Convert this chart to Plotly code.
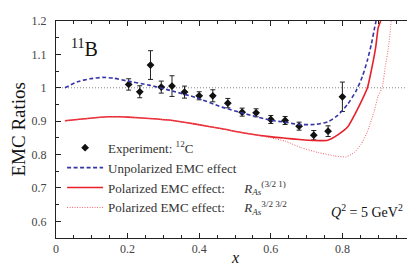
import plotly.graph_objects as go

# Experimental data (12C)
exp_x = [0.203, 0.234, 0.264, 0.294, 0.324, 0.359, 0.40, 0.438, 0.48, 0.52, 0.559, 0.60, 0.64, 0.679, 0.72, 0.76, 0.80]
exp_y = [1.010, 0.988, 1.068, 1.002, 1.005, 0.987, 0.976, 0.976, 0.954, 0.927, 0.925, 0.905, 0.902, 0.885, 0.858, 0.870, 0.973]
exp_err = [0.017, 0.018, 0.043, 0.018, 0.031, 0.018, 0.012, 0.018, 0.014, 0.012, 0.012, 0.012, 0.012, 0.012, 0.014, 0.016, 0.044]

# Unpolarized EMC effect
unpol_x = [0.025, 0.06, 0.095, 0.13, 0.16, 0.2, 0.26, 0.326, 0.39, 0.464, 0.529, 0.603, 0.64, 0.676, 0.722, 0.759, 0.787, 0.815, 0.838, 0.856, 0.87, 0.881, 0.89, 0.894]
unpol_y = [1.0, 1.018, 1.027, 1.031, 1.029, 1.02, 1.008, 0.99, 0.971, 0.942, 0.922, 0.902, 0.897, 0.890, 0.890, 0.898, 0.917, 0.951, 0.990, 1.034, 1.083, 1.131, 1.18, 1.2]

# Polarized EMC effect R_As^(3/2 1)
pol1_x = [0.025, 0.08, 0.142, 0.18, 0.2, 0.26, 0.326, 0.39, 0.464, 0.53, 0.603, 0.64, 0.68, 0.722, 0.759, 0.787, 0.815, 0.838, 0.856, 0.87, 0.881, 0.893, 0.9, 0.907]
pol1_y = [0.901, 0.907, 0.913, 0.913, 0.912, 0.908, 0.902, 0.891, 0.877, 0.864, 0.853, 0.849, 0.845, 0.842, 0.843, 0.859, 0.883, 0.927, 0.966, 1.0, 1.053, 1.121, 1.18, 1.2]

# Polarized EMC effect R_As^(3/2 3/2)
pol2_x = [0.025, 0.08, 0.142, 0.18, 0.2, 0.26, 0.326, 0.39, 0.464, 0.53, 0.6, 0.64, 0.686, 0.732, 0.778, 0.81, 0.833, 0.852, 0.87, 0.888, 0.9, 0.911, 0.92, 0.93, 0.936]
pol2_y = [0.901, 0.907, 0.913, 0.913, 0.912, 0.908, 0.902, 0.891, 0.877, 0.864, 0.850, 0.840, 0.820, 0.806, 0.796, 0.793, 0.806, 0.830, 0.869, 0.927, 0.976, 1.0, 1.064, 1.131, 1.2]

ref_x = [0, 1]
ref_y = [1, 1]

x_ticks = [0, 0.2, 0.4, 0.6, 0.8, 1]
x_tick_labels = ["0", "0.2", "0.4", "0.6", "0.8", "1"]
y_ticks = [0.6, 0.7, 0.8, 0.9, 1.0, 1.1, 1.2]
y_tick_labels = ["0.6", "0.7", "0.8", "0.9", "1", "1.1", "1.2"]

SERIF = "Times New Roman"
GAP = "&nbsp;" * 6

fig = go.Figure()
fig.add_trace(go.Scatter(x=ref_x, y=ref_y, mode="lines", showlegend=False,
                         line=dict(color="#888888", width=1, dash="1px,2px")))
fig.add_trace(go.Scatter(
    x=exp_x, y=exp_y, mode="markers", name="Experiment: <sup>12</sup>C",
    marker=dict(symbol="diamond", size=6, color="#111111"),
    error_y=dict(type="data", array=exp_err, color="#222222", thickness=1, width=2.5)))
fig.add_trace(go.Scatter(x=unpol_x, y=unpol_y, mode="lines", name="Unpolarized EMC effect",
                         line=dict(color="#3535a5", width=1.6, dash="4px,2.5px", shape="spline", smoothing=0.5)))
fig.add_trace(go.Scatter(x=pol1_x, y=pol1_y, mode="lines",
                         name="Polarized EMC effect:" + GAP + "<i>R</i><sub><i>As</i></sub><sup>(3/2 1)</sup>",
                         line=dict(color="#e8202a", width=1.6, shape="spline", smoothing=0.5)))
fig.add_trace(go.Scatter(x=pol2_x, y=pol2_y, mode="lines",
                         name="Polarized EMC effect:" + GAP + "<i>R</i><sub><i>As</i></sub><sup>3/2 3/2</sup>",
                         line=dict(color="#f06068", width=1, dash="1px,1.5px", shape="spline", smoothing=0.5)))

fig.add_annotation(x=0.035, y=1.12, xref="x", yref="y", text="<sup>11</sup>B", showarrow=False,
                   font=dict(family=SERIF, size=20, color="#111111"), xanchor="left")
fig.add_annotation(x=0.975, y=0.63, xref="x", yref="y",
                   text="<i>Q</i><sup>2</sup> = 5 GeV<sup>2</sup>", showarrow=False,
                   font=dict(family=SERIF, size=14, color="#111111"), xanchor="right")
# axis titles
fig.add_annotation(x=0.5, y=0, xref="paper", yref="paper", yshift=-19, text="<i>x</i>",
                   showarrow=False, xanchor="center", yanchor="middle",
                   font=dict(family=SERIF, size=16, color="#111111"))
fig.add_annotation(x=0, y=0.5, xref="paper", yref="paper", xshift=-38, text="EMC Ratios",
                   textangle=-90, showarrow=False, xanchor="center", yanchor="middle",
                   font=dict(family=SERIF, size=19, color="#111111"))

axis_common = dict(showgrid=False, zeroline=False, showline=True, linecolor="#222222", linewidth=1,
                   mirror="allticks", ticks="inside", ticklen=5, tickcolor="#222222",
                   ticklabeloverflow="allow",
                   tickfont=dict(family=SERIF, size=12, color="#444444"),
                   minor=dict(ticks="inside", ticklen=3, tickcolor="#222222", dtick=0.05))

fig.update_xaxes(range=[0, 1], tickvals=x_ticks, ticktext=x_tick_labels, **axis_common)
fig.update_yaxes(range=[0.55, 1.2], tickvals=y_ticks, ticktext=y_tick_labels,
                 ticklabelstandoff=6, **axis_common)

fig.update_layout(
    width=415, height=266,
    margin=dict(l=48, r=6, t=6, b=36),
    plot_bgcolor="white", paper_bgcolor="white",
    legend=dict(x=0.017, y=0.485, xanchor="left", yanchor="top", bgcolor="rgba(0,0,0,0)",
                font=dict(family=SERIF, size=13, color="#333333"), tracegroupgap=0,
                itemwidth=36),
)

fig.write_html("out.html")
